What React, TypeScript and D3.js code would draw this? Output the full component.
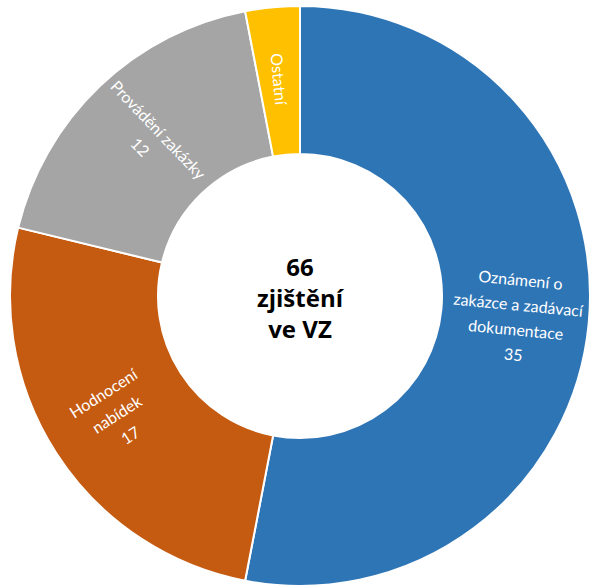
import React from "react";
import * as d3 from "d3";

const categories = ["Oznámení o\nzakázce a zadávací\ndokumentace", "Hodnocení\nnabídek", "Provádění zakázky", "Ostatní"];
const values = [35, 17, 12, 2];
const showValue = [true, true, true, false];
const colors = ["#2E75B6", "#C55A11", "#A5A5A5", "#FFC000"];
const centerLines = ["66", "zjištění", "ve VZ"];

const W = 592, H = 586;
const cx = 300, cy = 296, R = 290, r = 142;

export default function App() {
  const pie = d3.pie<number>().sort(null).value((d) => d);
  const arcs = pie(values);
  const arc = d3.arc<d3.PieArcDatum<number>>().innerRadius(r).outerRadius(R);
  const font = "Lato, 'Open Sans', sans-serif";
  return (
    <svg width={W} height={H} style={{ position: "absolute", left: 0, top: 0 }}>
      <g transform={`translate(${cx},${cy})`}>
        {arcs.map((a, i) => (
          <path key={i} d={arc(a) || ""} fill={colors[i]} stroke="#fff" strokeWidth={2} />
        ))}
        {arcs.map((a, i) => {
          const mid = (a.startAngle + a.endAngle) / 2;
          const rm = (R + r) / 2 + 2;
          const x = rm * Math.sin(mid);
          const y = -rm * Math.cos(mid);
          let rot = (Math.atan2(Math.cos(mid), -Math.sin(mid)) * 180) / Math.PI;
          if (rot > 90) rot -= 180;
          if (rot < -90) rot += 180;
          const lines = categories[i].split("\n");
          if (showValue[i]) lines.push(String(values[i]));
          const lh = 25;
          const y0 = -((lines.length - 1) * lh) / 2;
          return (
            <g key={"l" + i} transform={`translate(${x},${y}) rotate(${rot})`}>
              {lines.map((t, j) => (
                <text key={j} x={0} y={y0 + j * lh} dy="0.4em" textAnchor="middle" fill="#fff" fontSize={16} fontFamily={font}>
                  {t}
                </text>
              ))}
            </g>
          );
        })}
        {centerLines.map((t, j) => (
          <text key={"c" + j} x={0} y={-28 + j * 31} dy="0.35em" textAnchor="middle" fill="#000" fontSize={24} fontWeight="bold" fontFamily="'Open Sans', sans-serif">
            {t}
          </text>
        ))}
      </g>
    </svg>
  );
}
